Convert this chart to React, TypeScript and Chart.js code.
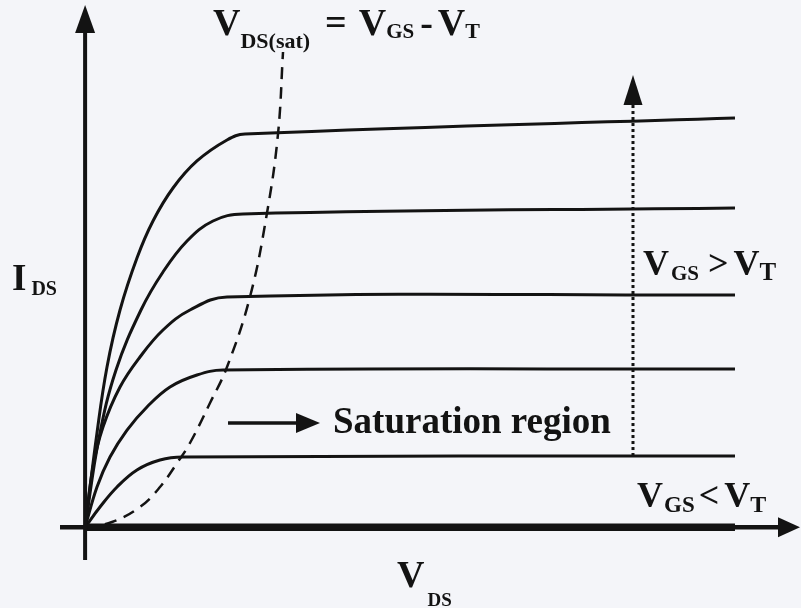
import React, { useEffect, useRef } from 'react';
import { Chart, registerables } from 'chart.js';

Chart.register(...registerables);

// Scale ranges (arbitrary units, VDS horizontally, IDS vertically)
const VDS_MIN = -1.275;
const VDS_MAX = 10.725;
const IDS_MIN = -1.53;
const IDS_MAX = 10;

// Output characteristic curves (VGS > VT)
const curve1Vds = [0, 0.178, 0.328, 0.523, 0.777, 1.017, 1.317, 1.676, 2.126, 2.395, 9.736];
const curve1Ids = [0, 1.788, 3.04, 4.121, 5.107, 5.809, 6.435, 6.947, 7.345, 7.459, 7.762];

const curve2Vds = [0, 0.208, 0.463, 0.837, 1.167, 1.527, 1.916, 2.365, 9.736];
const curve2Ids = [0, 1.694, 2.983, 4.121, 4.842, 5.43, 5.809, 5.942, 6.055];

const curve3Vds = [0, 0.118, 0.268, 0.523, 0.822, 1.167, 1.571, 2.126, 9.736];
const curve3Ids = [0, 1.144, 1.902, 2.661, 3.23, 3.742, 4.121, 4.368, 4.405];

const curve4Vds = [0, 0.178, 0.373, 0.628, 0.927, 1.272, 1.676, 2.066, 9.736];
const curve4Ids = [0, 0.764, 1.333, 1.845, 2.282, 2.661, 2.888, 2.983, 3.002];

const curve5Vds = [0, 0.223, 0.478, 0.777, 1.122, 1.467, 9.736];
const curve5Ids = [0, 0.385, 0.764, 1.087, 1.276, 1.333, 1.352];

// VGS < VT : no current
const offVds = [0, 9.736];
const offIds = [0, 0];

// VDS(sat) boundary (dashed)
const satVds = [0, 0.403, 0.822, 1.122, 1.377, 1.571, 1.871, 2.126, 2.47, 2.725, 2.89, 2.965];
const satIds = [0, 0.101, 0.385, 0.764, 1.219, 1.599, 2.357, 3.04, 4.368, 5.961, 7.459, 9.014];

// Increasing-VGS dotted arrow
const vgsArrowVds = [8.208, 8.208];
const vgsArrowIds = [1.352, 8.578];

// Saturation-region arrow
const satArrowVds = [2.141, 3.519];
const satArrowIds = [1.978, 1.978];

// Axes extents
const xAxisVds = [-0.376, 10.71];
const yAxisIds = [-0.62, 9.905];

// Labels
const topLabelPos = [1.916, 9.336];
const idsLabelPos = [-1.095, 4.5];
const vdsLabelPos = [4.673, -1.132];
const satLabelPos = [3.714, 1.788];
const gtLabelPos = [8.358, 4.785];
const ltLabelPos = [8.268, 0.385];
const satLabelText = 'Saturation region';

const INK = '#131313';
const BG = '#f4f5f9';
const FONT = '"Liberation Serif", "Times New Roman", serif';

type Part = [string, number, number, number]; // text, size, dy, gap before

const topLabelParts: Part[] = [
  ['V', 38, 0, 0],
  ['DS(sat)', 22, 13, 0],
  ['=', 38, 0, 15],
  ['V', 38, 0, 12],
  ['GS', 21, 3, 0],
  ['-', 38, 0, 6],
  ['V', 38, 0, 5],
  ['T', 22, 3, 0],
];
const idsLabelParts: Part[] = [
  ['I', 37, 0, 0],
  ['DS', 20, 5, 5],
];
const vdsLabelParts: Part[] = [
  ['V', 38, 0, 0],
  ['DS', 19, 19, 3],
];
const gtLabelParts: Part[] = [
  ['V', 36, 0, 0],
  ['GS', 21, 5, 2],
  ['>', 36, 0, 9],
  ['V', 36, 0, 5],
  ['T', 25, 5, 0],
];
const ltLabelParts: Part[] = [
  ['V', 36, 0, 0],
  ['GS', 23, 5, 1],
  ['<', 36, 0, 4],
  ['V', 36, 0, 5],
  ['T', 24, 5, 0],
];

const pts = (xs: number[], ys: number[]) => xs.map((x, i) => ({ x, y: ys[i] }));

export default function App() {
  const ref = useRef<HTMLCanvasElement | null>(null);

  useEffect(() => {
    const canvas = ref.current;
    if (!canvas) return;

    const curve = (xs: number[], ys: number[]) => ({
      data: pts(xs, ys),
      borderColor: INK,
      borderWidth: 3,
      pointRadius: 0,
      fill: false,
      tension: 0.4,
    });

    const decor = {
      id: 'decor',
      beforeDraw(chart: any) {
        const { ctx } = chart;
        ctx.save();
        ctx.fillStyle = BG;
        ctx.fillRect(0, 0, chart.width, chart.height);
        ctx.restore();
      },
      afterDatasetsDraw(chart: any) {
        const { ctx } = chart;
        const xs = chart.scales.x;
        const ys = chart.scales.y;
        const px = (v: number) => xs.getPixelForValue(v);
        const py = (v: number) => ys.getPixelForValue(v);
        ctx.save();
        ctx.strokeStyle = INK;
        ctx.fillStyle = INK;
        ctx.lineCap = 'butt';

        // x axis
        const ox = px(0);
        const oy = py(0);
        const xTip = px(xAxisVds[1]);
        ctx.lineWidth = 4.5;
        ctx.beginPath();
        ctx.moveTo(px(xAxisVds[0]), oy);
        ctx.lineTo(xTip - 18, oy);
        ctx.stroke();
        ctx.beginPath();
        ctx.moveTo(xTip, oy);
        ctx.lineTo(xTip - 22, oy - 10);
        ctx.lineTo(xTip - 22, oy + 10);
        ctx.closePath();
        ctx.fill();

        // y axis
        const yTip = py(yAxisIds[1]);
        ctx.lineWidth = 4;
        ctx.beginPath();
        ctx.moveTo(ox, py(yAxisIds[0]));
        ctx.lineTo(ox, yTip + 24);
        ctx.stroke();
        ctx.beginPath();
        ctx.moveTo(ox, yTip);
        ctx.lineTo(ox - 10, yTip + 28);
        ctx.lineTo(ox + 10, yTip + 28);
        ctx.closePath();
        ctx.fill();

        // dotted arrow head
        const ax = px(vgsArrowVds[1]);
        const ay = py(vgsArrowIds[1]);
        ctx.beginPath();
        ctx.moveTo(ax, ay);
        ctx.lineTo(ax - 9.5, ay + 30);
        ctx.lineTo(ax + 9.5, ay + 30);
        ctx.closePath();
        ctx.fill();

        // saturation arrow head
        const sx = px(satArrowVds[1]);
        const sy = py(satArrowIds[1]);
        ctx.beginPath();
        ctx.moveTo(sx, sy);
        ctx.lineTo(sx - 24, sy - 10);
        ctx.lineTo(sx - 24, sy + 10);
        ctx.closePath();
        ctx.fill();

        // labels
        ctx.textBaseline = 'alphabetic';
        ctx.textAlign = 'left';
        const rich = (pos: number[], parts: Part[]) => {
          let x = px(pos[0]);
          const base = py(pos[1]);
          for (const [t, size, dy, gap] of parts) {
            x += gap;
            ctx.font = `bold ${size}px ${FONT}`;
            ctx.fillText(t, x, base + dy);
            x += ctx.measureText(t).width;
          }
        };
        rich(topLabelPos, topLabelParts);
        rich(idsLabelPos, idsLabelParts);
        rich(vdsLabelPos, vdsLabelParts);
        rich(gtLabelPos, gtLabelParts);
        rich(ltLabelPos, ltLabelParts);
        ctx.font = `bold 37px ${FONT}`;
        ctx.fillText(satLabelText, px(satLabelPos[0]), py(satLabelPos[1]));
        ctx.restore();
      },
    };

    const chart = new Chart(canvas, {
      type: 'line',
      data: {
        datasets: [
          curve(curve1Vds, curve1Ids),
          curve(curve2Vds, curve2Ids),
          curve(curve3Vds, curve3Ids),
          curve(curve4Vds, curve4Ids),
          curve(curve5Vds, curve5Ids),
          {
            data: pts(offVds, offIds),
            borderColor: INK,
            borderWidth: 7.5,
            pointRadius: 0,
            fill: false,
          },
          {
            data: pts(satVds, satIds),
            borderColor: INK,
            borderWidth: 2.5,
            borderDash: [12, 8],
            pointRadius: 0,
            fill: false,
            tension: 0.4,
          },
          {
            data: pts(vgsArrowVds, [vgsArrowIds[0], vgsArrowIds[1] - 0.5]),
            borderColor: INK,
            borderWidth: 3,
            borderDash: [3, 3],
            pointRadius: 0,
            fill: false,
          },
          {
            data: pts([satArrowVds[0], satArrowVds[1] - 0.3], satArrowIds),
            borderColor: INK,
            borderWidth: 3.5,
            pointRadius: 0,
            fill: false,
          },
        ] as any,
      },
      options: {
        animation: false,
        responsive: false,
        devicePixelRatio: 1,
        layout: { padding: 0 },
        plugins: {
          legend: { display: false },
          tooltip: { enabled: false },
          title: { display: false },
        },
        events: [],
        scales: {
          x: { type: 'linear', min: VDS_MIN, max: VDS_MAX, display: false },
          y: { type: 'linear', min: IDS_MIN, max: IDS_MAX, display: false },
        },
      },
      plugins: [decor],
    });

    return () => chart.destroy();
  }, []);

  return (
    <div style={{ position: 'fixed', left: 0, top: 0, width: 801, height: 608 }}>
      <canvas ref={ref} width={801} height={608} style={{ display: 'block' }} />
    </div>
  );
}
